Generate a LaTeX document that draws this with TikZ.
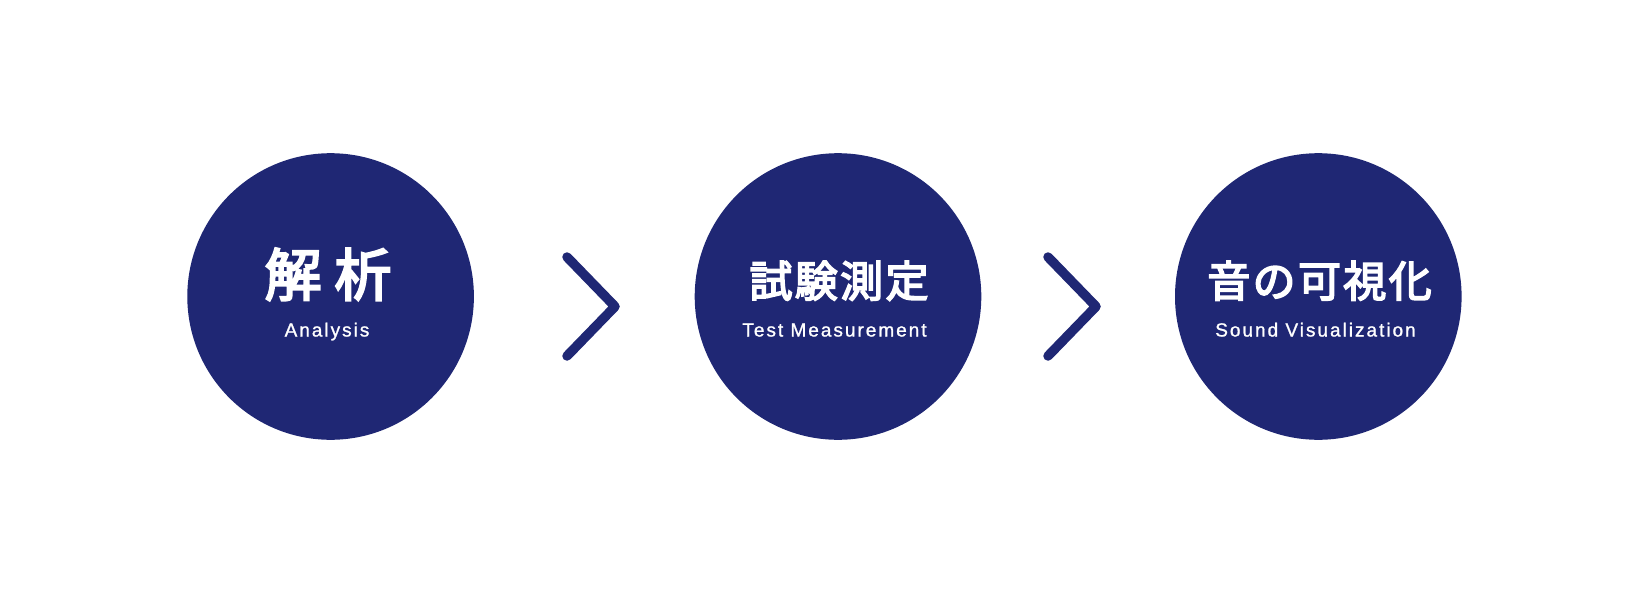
\documentclass[tikz,border=0pt]{standalone}
\usepackage{fontspec}
\setmainfont{Liberation Sans}
\newfontfamily\jpfont{Noto Sans CJK JP}[LetterSpace=5.5,FakeBold=3.8]
\newfontfamily\jpwide{Noto Sans CJK JP}[FakeBold=3.8]
\newfontfamily\enfont{Liberation Sans}[LetterSpace=10.5,FakeBold=1.2]
\definecolor{navy}{RGB}{31,39,116}

\begin{document}
\begin{tikzpicture}[x=1pt,y=-1pt,
  every node/.style={white,inner sep=0pt},
  stage/.style={circle,fill=navy,minimum size=286.6pt},
  jptitle/.style={anchor=base,font=\jpfont\fontsize{43}{43}\selectfont},
  ensub/.style={anchor=base,font=\enfont\fontsize{19}{19}\selectfont},
  chev/.style={navy,line width=9.5pt,line cap=round,line join=round}]
\useasboundingbox (0,0) rectangle (1627,605);

\node[stage] (ana) at (330.6,296.5) {};
\node[stage] (test) at (838,296.5) {};
\node[stage] (sound) at (1318.3,296.5) {};

\node[jptitle,font=\jpwide\fontsize{57}{57}\selectfont] (anaJ) at (328,296) {解 析};
\node[ensub] (anaE) at (327,336.5) {Analysis};
\node[jptitle] (testJ) at (839,297) {試験測定};
\node[ensub] (testE) at (834.5,336.5) {Test Measurement};
\node[jptitle] (soundJ) at (1319.5,297) {音の可視化};
\node[ensub] (soundE) at (1315.5,336.5) {Sound Visualization};

\draw[chev] (567,257) -- (615,306.5) -- (567,356);
\draw[chev] (1048,257) -- (1096,306.5) -- (1048,356);
\end{tikzpicture}
\end{document}
